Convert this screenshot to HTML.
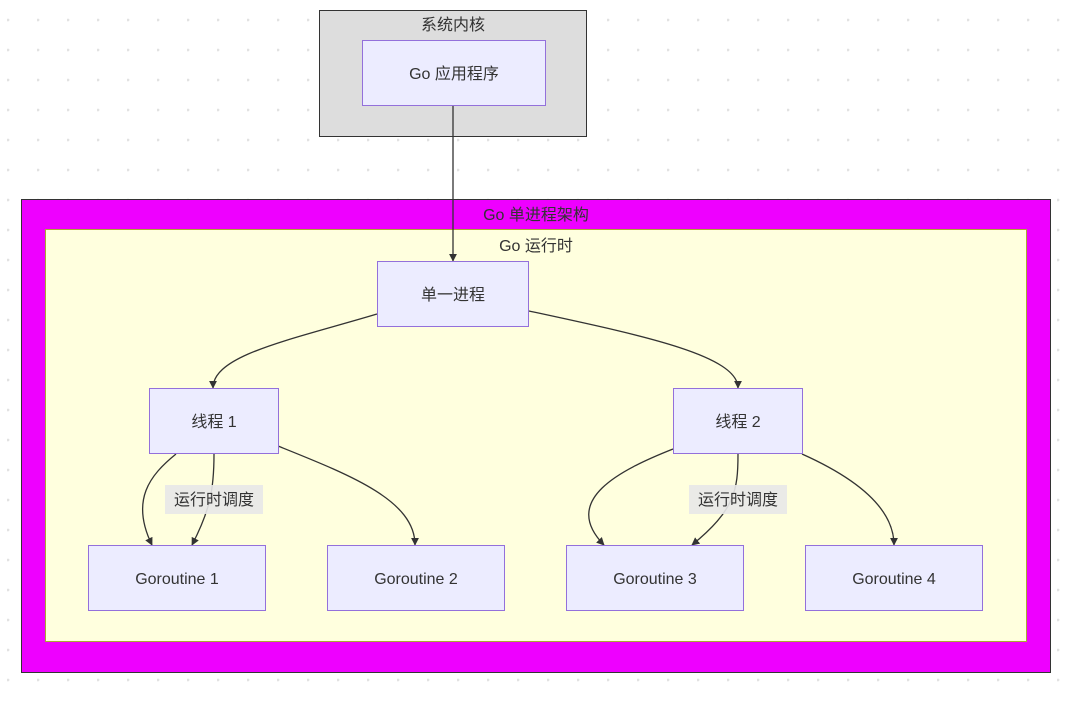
<!DOCTYPE html>
<html><head><meta charset="utf-8"><style>
html,body{margin:0;padding:0;background:#fff;width:1083px;height:703px;overflow:hidden}
svg text{font-family:"Liberation Sans","Noto Sans CJK SC",sans-serif;font-size:16px;fill:#333}
</style></head><body>
<svg width="1083" height="703" xmlns="http://www.w3.org/2000/svg">
<defs>
<pattern id="dots" x="7" y="20" width="30" height="30" patternUnits="userSpaceOnUse"><circle cx="1" cy="0" r="1.4" fill="#e2e2e2"/><circle cx="1" cy="30" r="1.4" fill="#e2e2e2"/></pattern>
<marker id="ar" viewBox="0 0 10 10" refX="9" refY="5" markerWidth="8" markerHeight="8" orient="auto-start-reverse" markerUnits="userSpaceOnUse"><path d="M0,0L10,5L0,10z" fill="#333"/></marker>
</defs>
<rect width="1083" height="703" fill="url(#dots)"/>
<rect x="319.5" y="10.5" width="267" height="126" fill="#dddddd" stroke="#333"/>
<text x="453" y="30" text-anchor="middle">系统内核</text>
<rect x="21.5" y="199.5" width="1029" height="473" fill="#ee00ff" stroke="#333"/>
<text x="536" y="220" text-anchor="middle">Go 单进程架构</text>
<rect x="45.5" y="229.5" width="981" height="412" fill="#ffffde" stroke="#aaaa33"/>
<text x="536" y="251" text-anchor="middle">Go 运行时</text>
<g fill="none" stroke="#333" stroke-width="1.3" marker-end="url(#ar)">
<path d="M453,106 L453,261"/>
<path d="M377,314 C290,340 213,355 213,388"/>
<path d="M529,311 C640,335 738,355 738,388"/>
<path d="M176,454 C150,475 130,500 152,545"/>
<path d="M214,454 C214,490 210,510 192,545"/>
<path d="M278,446 C350,475 415,500 415,545"/>
<path d="M673,449 C620,470 560,500 604,545"/>
<path d="M738,454 C738,490 735,510 692,545"/>
<path d="M802,454 C860,480 894,510 894,545"/>
</g>
<g fill="#ececff" stroke="#9370db">
<rect x="362.5" y="40.5" width="183" height="65"/>
<rect x="377.5" y="261.5" width="151" height="65"/>
<rect x="149.5" y="388.5" width="129" height="65"/>
<rect x="673.5" y="388.5" width="129" height="65"/>
<rect x="88.5" y="545.5" width="177" height="65"/>
<rect x="327.5" y="545.5" width="177" height="65"/>
<rect x="566.5" y="545.5" width="177" height="65"/>
<rect x="805.5" y="545.5" width="177" height="65"/>
</g>
<rect x="165" y="485" width="98" height="29" fill="#e8e8e8" opacity="0.9"/>
<rect x="689" y="485" width="98" height="29" fill="#e8e8e8" opacity="0.9"/>
<g text-anchor="middle">
<text x="454" y="79">Go 应用程序</text>
<text x="453" y="300">单一进程</text>
<text x="214" y="427">线程 1</text>
<text x="738" y="427">线程 2</text>
<text x="177" y="584">Goroutine 1</text>
<text x="416" y="584">Goroutine 2</text>
<text x="655" y="584">Goroutine 3</text>
<text x="894" y="584">Goroutine 4</text>
<text x="214" y="505">运行时调度</text>
<text x="738" y="505">运行时调度</text>
</g>
</svg>
</body></html>
